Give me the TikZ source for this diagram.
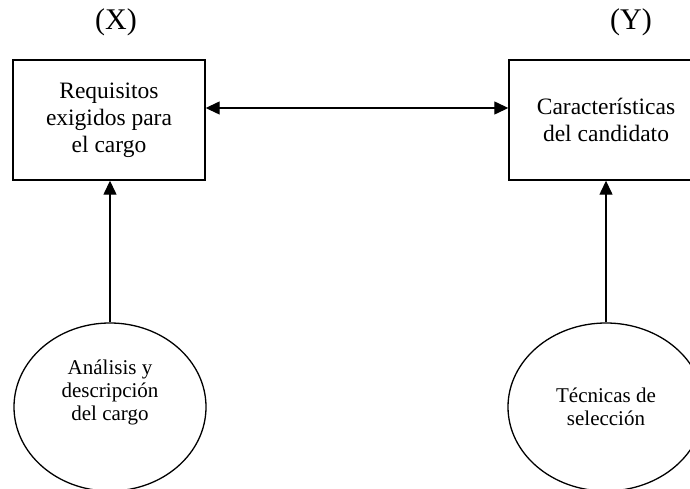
\documentclass[tikz,border=0pt]{standalone}
\usepackage{fontspec}
\setmainfont{Liberation Serif}
\usetikzlibrary{arrows.meta,shapes.geometric}
\begin{document}
\begin{tikzpicture}[x=1pt,y=-1pt,
  boxstyle/.style={draw,line width=1.4pt,minimum width=192pt,minimum height=120pt,inner sep=0pt,align=center,font=\fontsize{23.5}{27}\selectfont},
  ellstyle/.style={draw,ellipse,line width=1.3pt,inner sep=0pt,align=center,font=\fontsize{21}{23}\selectfont},
  arr/.style={line width=1.3pt,-{Triangle[length=14pt,width=13pt]}},
  lbl/.style={font=\fontsize{30}{32}\selectfont}]
\useasboundingbox (0,0) rectangle (690,489);
\clip (0,0) rectangle (690,489);
\node[boxstyle] (req) at (109,120) {Requisitos\\exigidos para\\el cargo};
\node[boxstyle,minimum width=194pt] (car) at (606,120) {Características\\del candidato};
\node[ellstyle,minimum width=192pt,minimum height=168pt] (ana) at (110,407) {Análisis y\\descripción\\del cargo\\[10pt]};
\node[ellstyle,minimum width=196pt,minimum height=168pt] (tec) at (606,407) {Técnicas de\\selección};
\node[lbl] (x) at (116,22) {(X)};
\node[lbl] (y) at (631,22) {(Y)};
\coordinate (reqr) at (req.east |- 0,108);
\coordinate (carl) at (car.west |- 0,108);
\draw[line width=1.3pt,{Triangle[length=14pt,width=13pt]}-{Triangle[length=14pt,width=13pt]}] (reqr) -- (carl);
\draw[arr] (ana.north) -- (ana.north |- req.south);
\draw[arr] (tec.north) -- (tec.north |- car.south);
\end{tikzpicture}
\end{document}
